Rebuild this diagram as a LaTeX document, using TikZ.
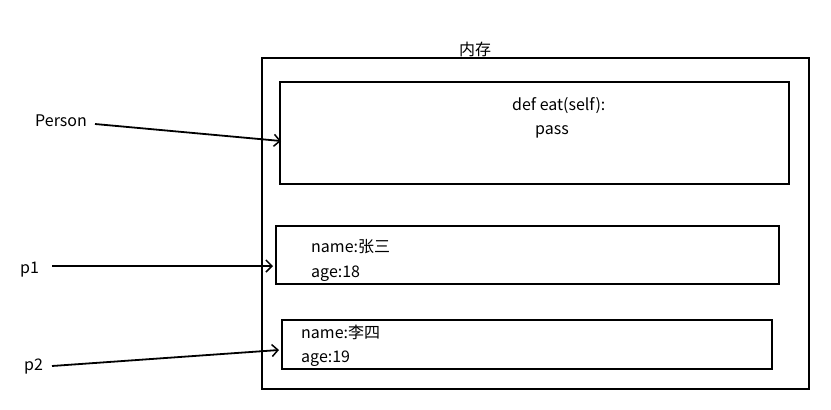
\documentclass[tikz,border=0pt]{standalone}
\usepackage{fontspec}
\setmainfont{Noto Sans CJK SC}
\usetikzlibrary{arrows.meta}
\begin{document}
\begin{tikzpicture}[x=1pt,y=-1pt,
  box/.style={draw=black,line width=1.9pt,anchor=north west,inner sep=0pt},
  lbl/.style={anchor=west,inner sep=1pt,font=\fontsize{16}{19}\selectfont},
  arr/.style={line width=1.8pt,-{Straight Barb[length=6pt,width=12pt,line width=1.5pt]}}]
\useasboundingbox (0,0) rectangle (831,410);
\fill[white] (0,0) rectangle (831,410);
% boxes
\node[box,minimum width=547pt,minimum height=331pt] (mem) at (261,57) {};
\node[box,minimum width=509pt,minimum height=102pt] (cls) at (279,81) {};
\node[box,minimum width=503pt,minimum height=58pt] (o1) at (275,225) {};
\node[box,minimum width=490pt,minimum height=49pt] (o2) at (281,319) {};
% title
\node[font=\fontsize{16}{19}\selectfont,inner sep=1pt] (title) at (475,49) {内存};
% texts
\node[lbl] (def) at (511,106) {def eat(self):};
\node[lbl] (pass) at (534,132) {pass};
\node[lbl] (n1) at (310,247) {name:张三};
\node[lbl] (a1) at (310,274) {age:18};
\node[lbl] (n2) at (300,332) {name:李四};
\node[lbl] (a2) at (300,359) {age:19};
% references
\node[lbl] (person) at (34,121) {Person};
\node[lbl] (p1) at (19,270) {p1};
\node[lbl] (p2) at (23,367) {p2};
\coordinate (pa) at (281,141);
\coordinate (p1a) at (273,266);
\coordinate (p2a) at (279,350);
\coordinate (ps) at (95,124);
\coordinate (p1s) at (52,266);
\coordinate (p2s) at (52,366);
\draw[arr] (ps) -- (pa);
\draw[arr] (p1s) -- (p1a);
\draw[arr] (p2s) -- (p2a);
\end{tikzpicture}
\end{document}
